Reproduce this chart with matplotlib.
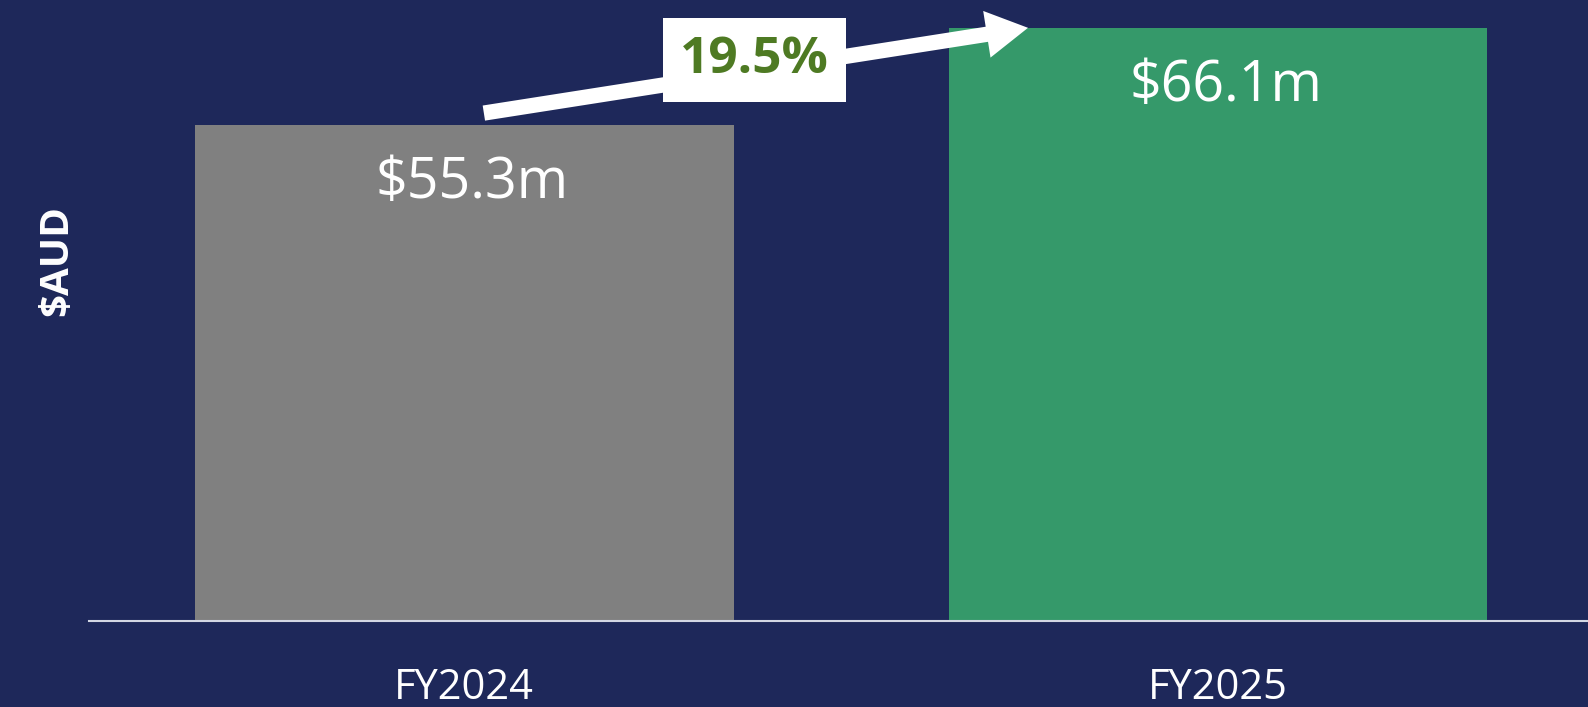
import matplotlib
matplotlib.use("Agg")
import matplotlib.pyplot as plt

categories = ["FY2024", "FY2025"]
revenue_m = [55.3, 66.1]
bar_colors = ["#808080", "#35996A"]

NAVY = "#1E285A"
growth = (revenue_m[1] - revenue_m[0]) / revenue_m[0] * 100

plt.rcParams["font.family"] = ["Open Sans", "DejaVu Sans"]

fig = plt.figure(figsize=(15.88, 7.07), dpi=100, facecolor=NAVY)
ax = fig.add_axes([0.056, 0.1216, 0.944, 0.8784], facecolor=NAVY)

x = list(range(len(categories)))
ax.bar(x, revenue_m, width=0.715, color=bar_colors, zorder=2)
ax.set_xlim(-0.498, 1.491)
ax.set_ylim(0, 69.2)

for xi, v in zip(x, revenue_m):
    ax.text(xi + 0.01, v - 6.5, f"${v:.1f}m", ha="center", va="center",
            color="white", fontsize=40)

# growth arrow between bar tops
ax.annotate("", xy=(x[1] - 0.252, revenue_m[1]), xytext=(x[0] + 0.026, revenue_m[0] + 1.3),
            arrowprops=dict(arrowstyle="simple,head_length=3.0,head_width=3.4,tail_width=1.1",
                            color="white", lw=0, shrinkA=0, shrinkB=0),
            zorder=4)
ax.text(0.385, 62.5, f"{growth:.1f}%", ha="center", va="center", fontsize=37,
        fontweight="bold", color="#4E7A23", zorder=5,
        bbox=dict(boxstyle="square,pad=0.33", fc="white", ec="none"))

for s in ["top", "right", "left"]:
    ax.spines[s].set_visible(False)
ax.spines["bottom"].set_color("#D3D7E3")
ax.spines["bottom"].set_linewidth(1.5)
ax.set_yticks([])
ax.set_xticks(x)
ax.set_xticklabels(categories, color="white", fontsize=30)
ax.tick_params(axis="x", length=0, pad=33)

fig.text(0.036, 0.632, "$AUD", rotation=90, ha="center", va="center",
         color="white", fontsize=29, fontweight="bold")

fig.savefig("out.png", dpi=100, facecolor=NAVY)
